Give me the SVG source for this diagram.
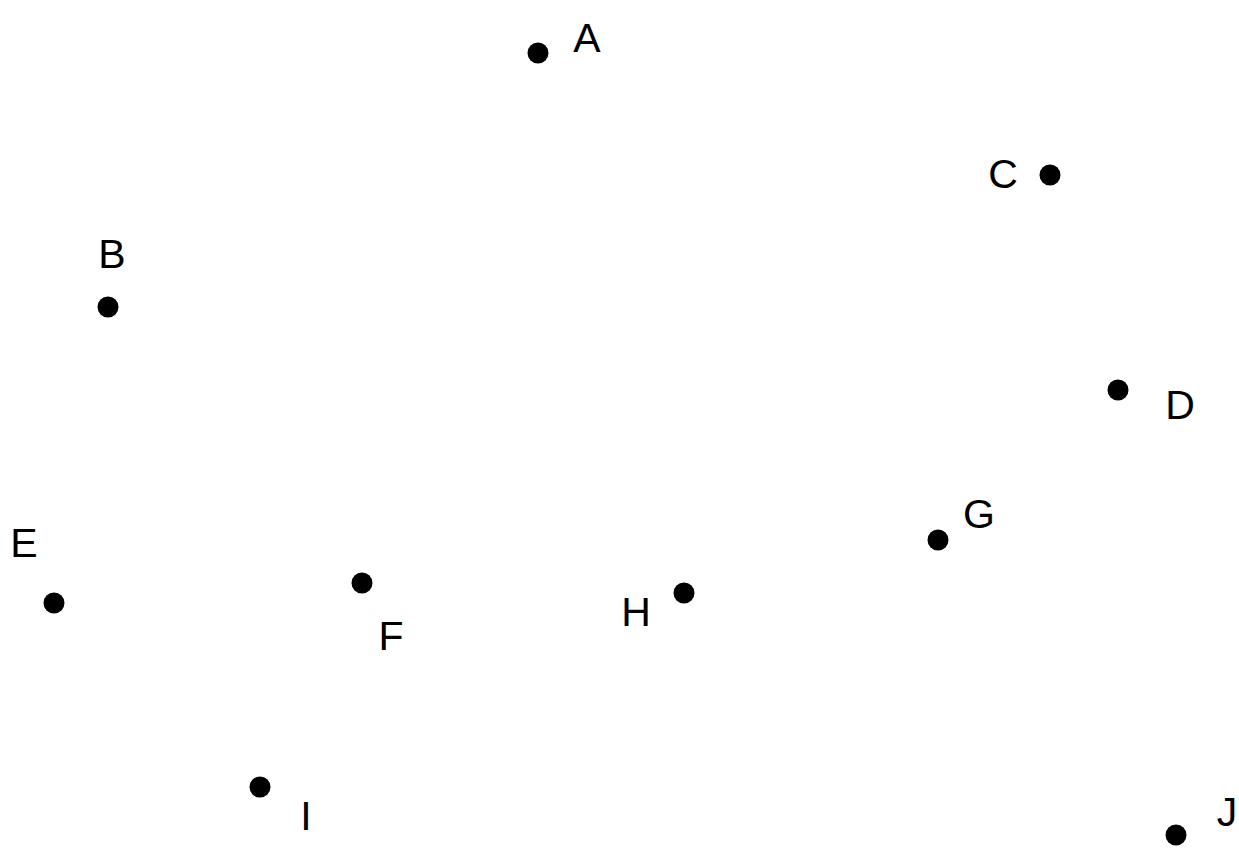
<svg xmlns="http://www.w3.org/2000/svg" width="1239" height="855" viewBox="0 0 1239 855">
<style>
.dot{fill:#000}
.lbl{font-family:"Liberation Sans",Arial,sans-serif;font-size:41px;fill:#000;text-anchor:middle}
</style>
<rect width="1239" height="855" fill="#fff"/>
<g id="connectors"></g>
<g id="node-A"><circle class="dot" cx="538" cy="53" r="10.5"/><text class="lbl" x="587" y="52">A</text></g>
<g id="node-B"><circle class="dot" cx="108" cy="307" r="10.5"/><text class="lbl" x="112" y="268">B</text></g>
<g id="node-C"><circle class="dot" cx="1050" cy="175" r="10.5"/><text class="lbl" x="1003" y="188">C</text></g>
<g id="node-D"><circle class="dot" cx="1118" cy="390" r="10.5"/><text class="lbl" x="1180" y="419">D</text></g>
<g id="node-E"><circle class="dot" cx="54" cy="603" r="10.5"/><text class="lbl" x="24" y="557">E</text></g>
<g id="node-F"><circle class="dot" cx="362" cy="583" r="10.5"/><text class="lbl" x="391" y="650">F</text></g>
<g id="node-G"><circle class="dot" cx="938" cy="540" r="10.5"/><text class="lbl" x="979" y="528">G</text></g>
<g id="node-H"><circle class="dot" cx="684" cy="593" r="10.5"/><text class="lbl" x="636" y="626">H</text></g>
<g id="node-I"><circle class="dot" cx="260" cy="787" r="10.5"/><text class="lbl" x="306" y="830">I</text></g>
<g id="node-J"><circle class="dot" cx="1176" cy="835" r="10.5"/><text class="lbl" x="1227" y="826">J</text></g>
</svg>
